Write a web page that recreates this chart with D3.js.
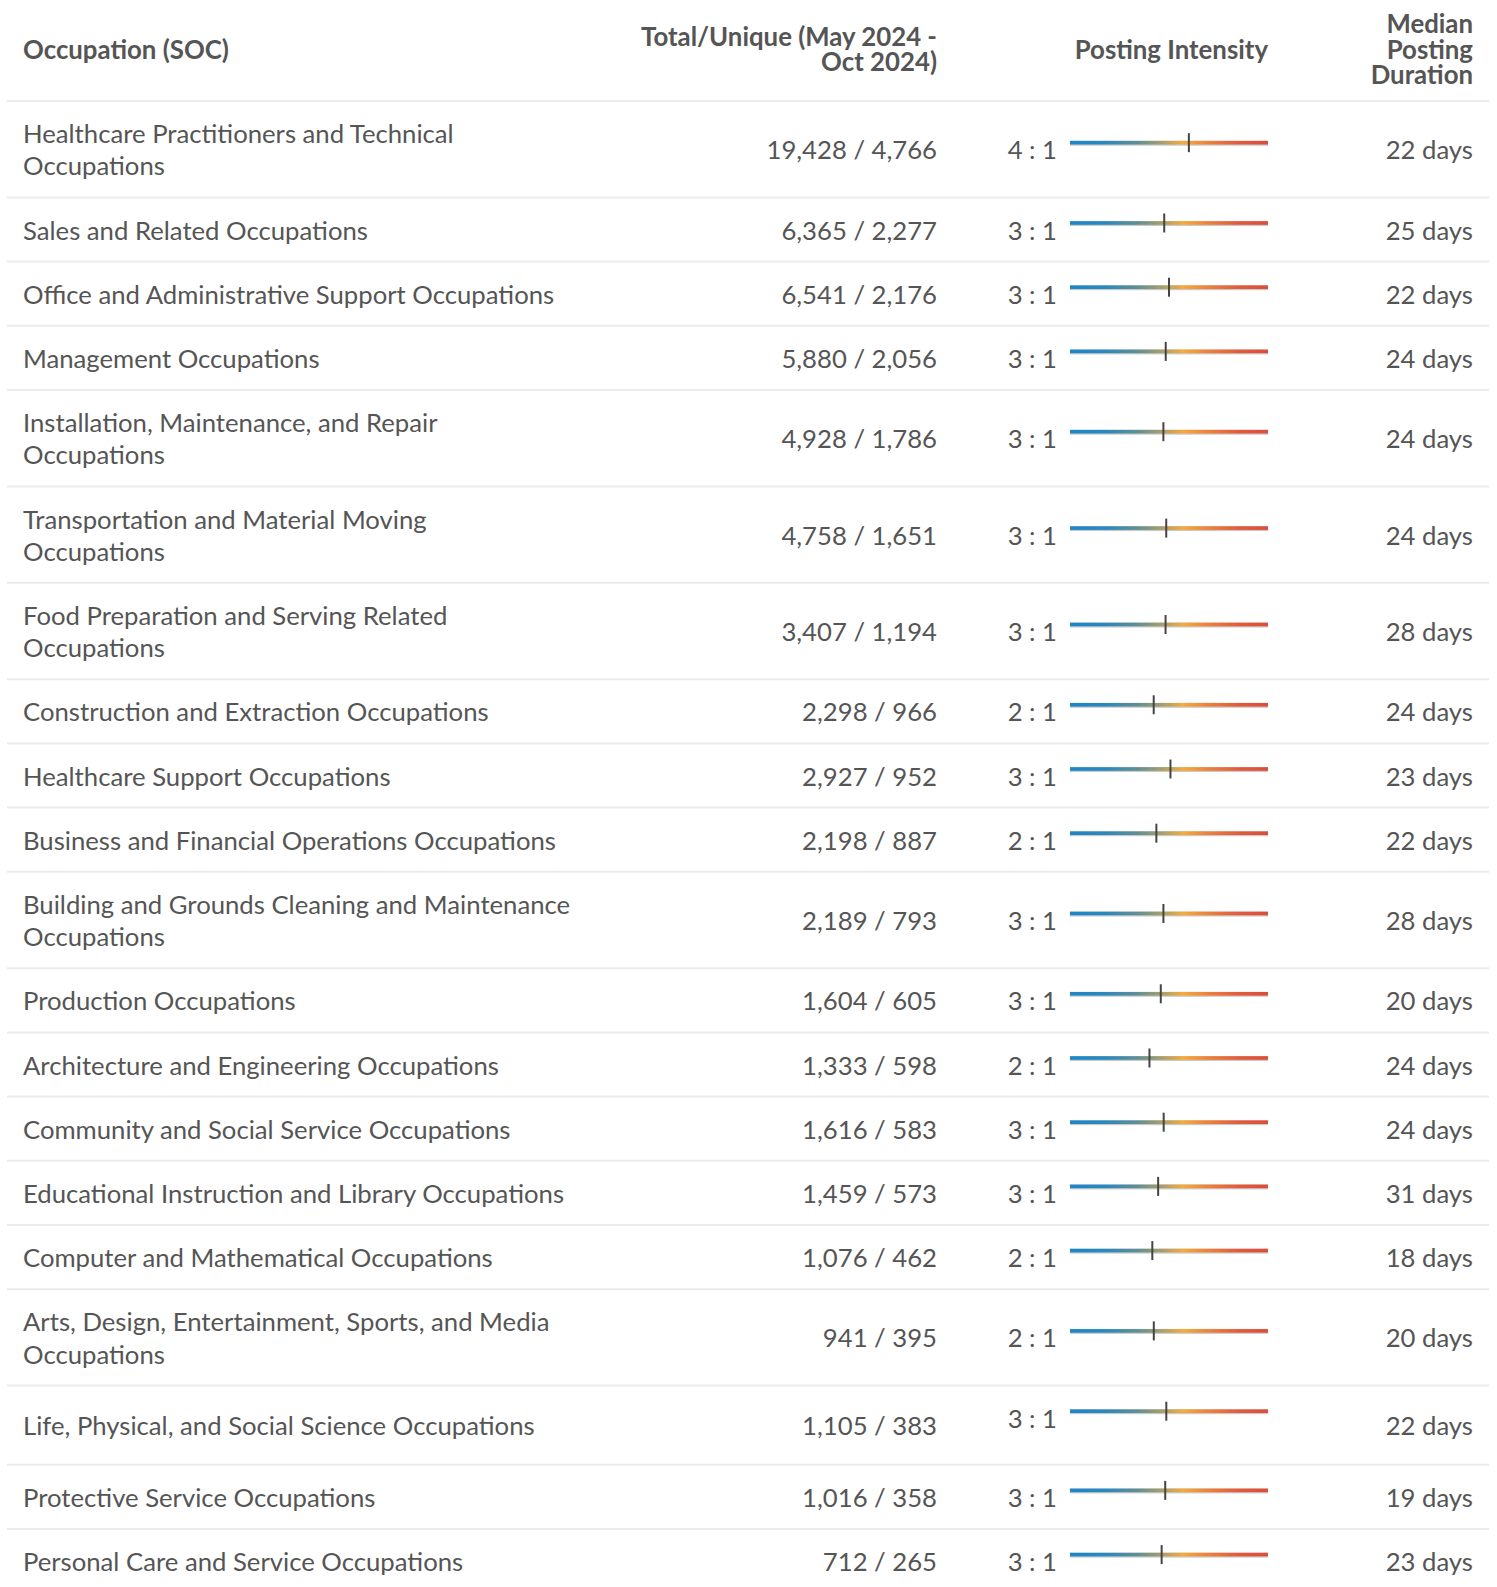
<!DOCTYPE html>
<html>
<head>
<meta charset="utf-8">
<script src="https://cdn.jsdelivr.net/npm/d3@7"></script>
<style>
  body { margin: 0; background: #fff; }
  svg { display: block; }
</style>
</head>
<body>
<svg></svg>
<script>
const occupations = [
  'Healthcare Practitioners and Technical Occupations',
  'Sales and Related Occupations',
  'Office and Administrative Support Occupations',
  'Management Occupations',
  'Installation, Maintenance, and Repair Occupations',
  'Transportation and Material Moving Occupations',
  'Food Preparation and Serving Related Occupations',
  'Construction and Extraction Occupations',
  'Healthcare Support Occupations',
  'Business and Financial Operations Occupations',
  'Building and Grounds Cleaning and Maintenance Occupations',
  'Production Occupations',
  'Architecture and Engineering Occupations',
  'Community and Social Service Occupations',
  'Educational Instruction and Library Occupations',
  'Computer and Mathematical Occupations',
  'Arts, Design, Entertainment, Sports, and Media Occupations',
  'Life, Physical, and Social Science Occupations',
  'Protective Service Occupations',
  'Personal Care and Service Occupations'
];
const totalPostings = [19428, 6365, 6541, 5880, 4928, 4758, 3407, 2298, 2927, 2198, 2189, 1604, 1333, 1616, 1459, 1076, 941, 1105, 1016, 712];
const uniquePostings = [4766, 2277, 2176, 2056, 1786, 1651, 1194, 966, 952, 887, 793, 605, 598, 583, 573, 462, 395, 383, 358, 265];
const medianDays = [22, 25, 22, 24, 24, 24, 28, 24, 23, 22, 28, 20, 24, 24, 31, 18, 20, 22, 19, 23];

const headerOccupation = ['Occupation (SOC)'];
const headerTotals = ['Total/Unique (May 2024 -', 'Oct 2024)'];
const headerIntensity = ['Posting Intensity'];
const headerDuration = ['Median', 'Posting', 'Duration'];

const intensityDomain = [0.66, 13.7];
const gradientStops = [
  [0, '#1a87c9'], [0.18, '#2a88bf'], [0.34, '#5f8f94'], [0.47, '#aaa069'],
  [0.57, '#f5ab3a'], [0.7, '#ee803b'], [0.85, '#e35b3a'], [1, '#df4b3a']
];

const WIDTH = 1497;
const HEIGHT = 1587;
const TABLE_LEFT = 7;
const TABLE_RIGHT = 1489;
const HEADER_HEIGHT = 101;
const ROW_PAD = 16;
const LINE_H = 32.2;
const NAME_X = 23;
const NAME_WRAP = 549;
const TOTALS_RIGHT = 937;
const RATIO_RIGHT = 1057;
const BAR_X0 = 1070;
const BAR_X1 = 1268;
const DAYS_RIGHT = 1473;
const TEXT_COLOR = '#555';
const FONT = 'Lato, "Open Sans", sans-serif';
const BODY_SIZE = 25.7;
const HEAD_SIZE = 25.8;

// one row sits a little taller in the source, with its intensity cell pushed up
const tallRow = 'Life, Physical, and Social Science Occupations';
const tallExtra = 15;

const fmt = d3.format(',');

const rows = occupations.map((name, i) => ({
  name,
  total: totalPostings[i],
  unique: uniquePostings[i],
  days: medianDays[i],
  ratio: totalPostings[i] / uniquePostings[i]
}));

const svg = d3.select('svg').
attr('width', WIDTH).
attr('height', HEIGHT).
attr('font-family', FONT).
attr('fill', TEXT_COLOR);

const grad = svg.append('defs').
append('linearGradient').
attr('id', 'intensity-grad').
attr('x1', '0%').attr('x2', '100%').attr('y1', '0%').attr('y2', '0%');

grad.selectAll('stop').
data(gradientStops).
join('stop').
attr('offset', d => d[0]).
attr('stop-color', d => d[1]);

const xScale = d3.scaleLog().
domain(intensityDomain).
range([BAR_X0, BAR_X1]);

/* --HEADER-- */

const headerG = svg.append('g').
attr('font-weight', 700).
attr('font-size', HEAD_SIZE);

const headerCenter = 48.6;
const headerLineH = 25.3;

const headers = [
{ lines: headerOccupation, x: NAME_X, anchor: 'start' },
{ lines: headerTotals, x: TOTALS_RIGHT, anchor: 'end' },
{ lines: headerIntensity, x: BAR_X1, anchor: 'end' },
{ lines: headerDuration, x: DAYS_RIGHT, anchor: 'end' }];


headers.forEach(h => {
  const t = headerG.append('text').
  attr('text-anchor', h.anchor);
  h.lines.forEach((line, j) => {
    t.append('tspan').
    attr('x', h.x).
    attr('y', headerCenter + (j - (h.lines.length - 1) / 2) * headerLineH).
    attr('dominant-baseline', 'central').
    text(line);
  });
});

svg.append('line').
attr('x1', TABLE_LEFT).attr('x2', TABLE_RIGHT).
attr('y1', HEADER_HEIGHT).attr('y2', HEADER_HEIGHT).
attr('stroke', '#ebebeb').
attr('stroke-width', 2);

/* --ROWS-- */

const bodyG = svg.append('g').
attr('font-size', BODY_SIZE);

// measure wraps first so the row heights can be stacked
const measure = bodyG.append('text').attr('visibility', 'hidden');
const wrapText = str => {
  const words = str.split(' ');
  const lines = [];
  let cur = words[0];
  for (let k = 1; k < words.length; k++) {
    const test = cur + ' ' + words[k];
    measure.text(test);
    if (measure.node().getComputedTextLength() > NAME_WRAP) {
      lines.push(cur);
      cur = words[k];
    } else {
      cur = test;
    }
  }
  lines.push(cur);
  return lines;
};

let y = HEADER_HEIGHT;
rows.forEach(r => {
  r.lines = wrapText(r.name);
  r.extra = r.name === tallRow ? tallExtra : 0;
  r.top = y;
  r.height = ROW_PAD * 2 + LINE_H * r.lines.length + r.extra;
  r.center = r.top + r.height / 2;
  y += r.height;
});
measure.remove();

const rowG = bodyG.selectAll('g.row').
data(rows).
join('g').
attr('class', 'row');

rowG.append('line').
attr('x1', TABLE_LEFT).attr('x2', TABLE_RIGHT).
attr('y1', d => d.top + d.height).attr('y2', d => d.top + d.height).
attr('stroke', '#ebebeb').
attr('stroke-width', 2);

rowG.each(function (d) {
  const t = d3.select(this).append('text');
  d.lines.forEach((line, j) => {
    t.append('tspan').
    attr('x', NAME_X).
    attr('y', d.top + ROW_PAD + d.extra / 2 + LINE_H * (j + 0.5)).
    attr('dominant-baseline', 'central').
    text(line);
  });
});

rowG.append('text').
attr('x', TOTALS_RIGHT).
attr('y', d => d.center).
attr('text-anchor', 'end').
attr('dominant-baseline', 'central').
text(d => `${fmt(d.total)} / ${fmt(d.unique)}`);

rowG.append('text').
attr('x', DAYS_RIGHT).
attr('y', d => d.center).
attr('text-anchor', 'end').
attr('dominant-baseline', 'central').
text(d => `${d.days} days`);

// intensity cell
const cellY = d => d.center - d.extra / 2;
const barY = d => cellY(d) - 6.5;

rowG.append('text').
attr('x', RATIO_RIGHT).
attr('y', d => cellY(d)).
attr('text-anchor', 'end').
attr('dominant-baseline', 'central').
text(d => `${Math.round(d.ratio)} : 1`);

rowG.append('rect').
attr('x', BAR_X0).
attr('y', d => barY(d) - 2).
attr('width', BAR_X1 - BAR_X0).
attr('height', 5).
attr('fill', '#c9c9c9');

rowG.append('rect').
attr('x', BAR_X0).
attr('y', d => barY(d) - 1.8).
attr('width', BAR_X1 - BAR_X0).
attr('height', 3.6).
attr('fill', 'url(#intensity-grad)');

rowG.append('line').
attr('x1', d => xScale(d.ratio)).
attr('x2', d => xScale(d.ratio)).
attr('y1', d => barY(d) - 9.5).
attr('y2', d => barY(d) + 9.5).
attr('stroke', '#444').
attr('stroke-width', 2);
</script>
</body>
</html>
